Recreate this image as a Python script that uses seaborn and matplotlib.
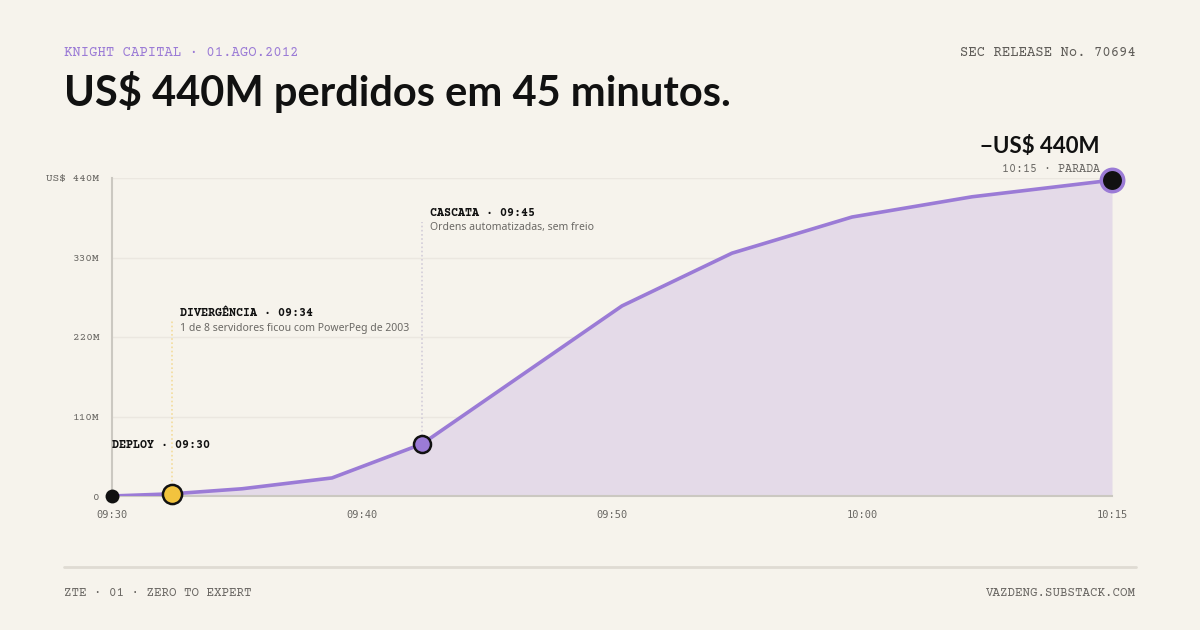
# -*- coding: utf-8 -*-
# Knight Capital, 01.08.2012: perda acumulada em 45 minutos

import matplotlib.pyplot as plt
import seaborn as sns
import pandas as pd
from matplotlib.lines import Line2D

# Dados
posicao = [0, 6, 13, 22, 31, 51, 62, 74, 86, 100]        # posição na janela de tempo (%)
perda = [0, 3, 10, 25, 72, 263, 336, 386, 414, 437]      # US$ milhões
x_ticks = [0, 25, 50, 75, 100]
x_labels = ['09:30', '09:40', '09:50', '10:00', '10:15']
y_ticks = [0, 110, 220, 330, 440]
y_labels = ['0', '110M', '220M', '330M', 'US$ 440M']

evento_idx = [0, 1, 4]
evento_titulo = ['DEPLOY · 09:30', 'DIVERGÊNCIA · 09:34', 'CASCATA · 09:45']
evento_nota = ['', '1 de 8 servidores ficou com PowerPeg de 2003', 'Ordens automatizadas, sem freio']

df = pd.DataFrame({'pos': posicao, 'perda': perda})

# Cores
fundo = '#f6f3ec'
roxo = '#9b7bd6'
lilas = '#e4dae8'
amarelo = '#f2c33e'
preto = '#111111'
cinza = '#6a6864'

sns.set_theme(style='white')
plt.rcParams['font.family'] = ['Noto Sans', 'DejaVu Sans']
mono = ['Courier Prime', 'FreeMono', 'DejaVu Sans Mono']
negrito = ['Lato', 'Open Sans', 'DejaVu Sans']

fig = plt.figure(figsize=(12, 6.3), dpi=100, facecolor=fundo)
ax = fig.add_axes([112 / 1200, 1 - 496 / 630, 1000 / 1200, 318 / 630])
ax.set_facecolor(fundo)

# Área e linha
ax.fill_between(df['pos'], df['perda'], color=lilas, lw=0, zorder=1)
sns.lineplot(data=df, x='pos', y='perda', color=roxo, lw=2.6, ax=ax, zorder=3)

ax.set_xlim(0, 100)
ax.set_ylim(0, 440)
ax.set_xticks(x_ticks)
ax.set_xticklabels(x_labels, family='DejaVu Sans Mono', fontsize=7.5, color=cinza)
ax.set_yticks(y_ticks)
ax.set_yticklabels(y_labels, family=mono, fontsize=8, color=cinza)
ax.tick_params(axis='x', length=0, pad=10)
ax.tick_params(axis='y', length=0, pad=9)
ax.set_xlabel('')
ax.set_ylabel('')
ax.grid(axis='y', color='#ebe7e0', lw=1)
ax.set_axisbelow(True)
for s in ['top', 'right']:
    ax.spines[s].set_visible(False)
ax.spines['left'].set_color('#cbc8c1')
ax.spines['left'].set_linewidth(1.5)
ax.spines['bottom'].set_color('#cbc8c1')
ax.spines['bottom'].set_linewidth(1.5)
ax.spines['left'].set_zorder(2)

# Eventos: linhas guia, marcadores e textos
guia_topo = [53, 243, 379]
guia_cor = ['#8a8782', '#f3dc9c', '#d3cdd9']
titulo_y = [70, 253, 392]
marc_cor = [preto, amarelo, roxo]
marc_tam = [100, 190, 150]
marc_borda = [0, 1.8, 1.8]
for i, idx in enumerate(evento_idx):
    x0 = posicao[idx]
    y0 = perda[idx]
    ax.plot([x0, x0], [y0, guia_topo[i]], color=guia_cor[i], lw=1.2, ls=(0, (1, 1.5)), zorder=2)
    ax.scatter(x0, y0, s=marc_tam[i], color=marc_cor[i], edgecolor=preto, linewidth=marc_borda[i],
               zorder=5, clip_on=False)
    dx = 0 if i == 0 else 6
    ax.annotate(evento_titulo[i], (x0, titulo_y[i]), xytext=(dx, 0), textcoords='offset points',
                family=mono, fontsize=8.5, fontweight='bold', color=preto, va='center', ha='left')
    if evento_nota[i]:
        ax.annotate(evento_nota[i], (x0, titulo_y[i]), xytext=(dx, -11), textcoords='offset points',
                    fontsize=7.5, color=cinza, va='center', ha='left')

# Ponto final
ax.scatter(posicao[-1], perda[-1], s=260, color=preto, edgecolor=roxo, linewidth=2.5,
           zorder=6, clip_on=False)
ax.annotate('−US$ 440M', (posicao[-1], perda[-1]), xytext=(-9, 24), textcoords='offset points',
            family=negrito, fontsize=16, fontweight='bold', color=preto, ha='right', va='center',
            annotation_clip=False)
ax.annotate('10:15 · PARADA', (posicao[-1], perda[-1]), xytext=(-9, 8), textcoords='offset points',
            family=mono, fontsize=8.5, color=cinza, ha='right', va='center', annotation_clip=False)

# Cabeçalho
fig.text(64 / 1200, 1 - 52 / 630, 'KNIGHT CAPITAL · 01.AGO.2012', family=mono, fontsize=10,
         color=roxo, va='center', ha='left')
fig.text(1136 / 1200, 1 - 52 / 630, 'SEC RELEASE No. 70694', family=mono, fontsize=10,
         color='#5f5c58', va='center', ha='right')
fig.text(64 / 1200, 1 - 92 / 630, 'US$ 440M perdidos em 45 minutos.', family=negrito, fontsize=30,
         fontweight='bold', color=preto, va='center', ha='left')

# Rodapé
fig.add_artist(Line2D([64 / 1200, 1136 / 1200], [1 - 567 / 630, 1 - 567 / 630], color='#dfdbd3', lw=2))
fig.text(64 / 1200, 1 - 593 / 630, 'ZTE · 01 · ZERO TO EXPERT', family=mono, fontsize=9,
         color='#6a6763', va='center', ha='left')
fig.text(1136 / 1200, 1 - 593 / 630, 'VAZDENG.SUBSTACK.COM', family=mono, fontsize=9,
         color='#6a6763', va='center', ha='right')

plt.savefig('out.png', dpi=100, facecolor=fundo)
